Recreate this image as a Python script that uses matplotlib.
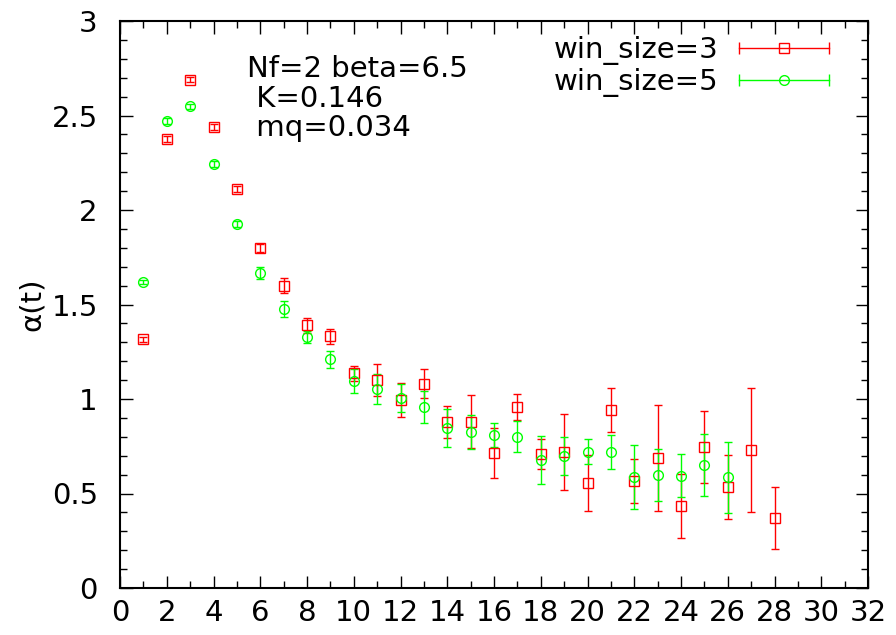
import matplotlib
matplotlib.use("Agg")
import matplotlib.pyplot as plt
from matplotlib.lines import Line2D
from matplotlib.legend_handler import HandlerLine2D
import numpy as np

# win_size=3
t3 = list(range(1, 29))
a3 = [1.315, 2.375, 2.69, 2.44, 2.11, 1.80, 1.60, 1.39, 1.333, 1.135,
      1.10, 0.995, 1.08, 0.88, 0.88, 0.714, 0.957, 0.709, 0.72, 0.556,
      0.942, 0.566, 0.688, 0.434, 0.746, 0.534, 0.73, 0.37]
e3 = [0.015, 0.015, 0.015, 0.015, 0.015, 0.02, 0.04, 0.04, 0.04, 0.04,
      0.085, 0.09, 0.077, 0.085, 0.14, 0.13, 0.07, 0.077, 0.2, 0.15,
      0.116, 0.115, 0.28, 0.17, 0.19, 0.17, 0.33, 0.165]

# win_size=5
t5 = list(range(1, 27))
a5 = [1.617, 2.47, 2.548, 2.245, 1.926, 1.667, 1.476, 1.328, 1.21, 1.095,
      1.053, 1.005, 0.958, 0.847, 0.826, 0.81, 0.80, 0.677, 0.70, 0.72,
      0.72, 0.587, 0.598, 0.593, 0.65, 0.587]
e5 = [0.01, 0.015, 0.015, 0.015, 0.015, 0.03, 0.04, 0.03, 0.045, 0.063,
      0.077, 0.075, 0.084, 0.1, 0.088, 0.062, 0.082, 0.128, 0.1, 0.066,
      0.09, 0.167, 0.14, 0.114, 0.163, 0.188]

RED = '#ff0000'
GREEN = '#00ff00'

plt.rcParams['font.family'] = ['DejaVu Sans']
plt.rcParams['font.size'] = 21

fig = plt.figure(figsize=(8.96, 6.35), dpi=100)
ax = fig.add_axes([120/896, 47/635, 748/896, 567/635])

ax.errorbar(t3, a3, yerr=e3, fmt='s', color=RED, mfc='none', ms=7,
            mew=1, elinewidth=1, capsize=3, capthick=1)
ax.errorbar(t5, a5, yerr=e5, fmt='o', color=GREEN, mfc='none', ms=7,
            mew=1, elinewidth=1, capsize=3, capthick=1)

ax.set_xlim(0, 32)
ax.set_ylim(0, 3)
ax.set_xticks(np.arange(0, 33, 2))
ax.set_xticks(np.arange(0, 33, 1), minor=True)
ax.set_yticks(np.arange(0, 3.01, 0.5))
ax.set_yticks(np.arange(0, 3.01, 0.1), minor=True)
ax.set_yticklabels(['0', '0.5', '1', '1.5', '2', '2.5', '3'])
ax.tick_params(which='both', direction='in', top=True, right=True, width=1)
ax.tick_params(which='major', length=9)
ax.tick_params(which='minor', length=5)
ax.tick_params(axis='x', pad=8)
ax.tick_params(axis='y', pad=16)
for s in ax.spines.values():
    s.set_linewidth(1.5)

ax.set_ylabel('α(t)', labelpad=4)

ax.text(5.43, 2.82, 'Nf=2 beta=6.5\n K=0.146\n mq=0.034', ha='left', va='top',
        linespacing=1.07, transform=ax.transData)

# legend with horizontal error-bar samples
h3l = Line2D([], [], color=RED, lw=1, marker='|', ms=8, mew=1)
h3m = Line2D([], [], color=RED, ls='none', marker='s', ms=7, mfc='none', mew=1)
h5l = Line2D([], [], color=GREEN, lw=1, marker='|', ms=8, mew=1)
h5m = Line2D([], [], color=GREEN, ls='none', marker='o', ms=7, mfc='none', mew=1)
hm = {h3l: HandlerLine2D(numpoints=2), h5l: HandlerLine2D(numpoints=2),
      h3m: HandlerLine2D(numpoints=1), h5m: HandlerLine2D(numpoints=1)}
ax.legend([(h3l, h3m), (h5l, h5m)], ['win_size=3', 'win_size=5'],
          handler_map=hm, loc='upper right', bbox_to_anchor=(0.96, 0.974),
          frameon=False, markerfirst=False, handlelength=3.7, handletextpad=0.4,
          borderpad=0, borderaxespad=0, labelspacing=0.12)

fig.savefig('out.png', dpi=100)
